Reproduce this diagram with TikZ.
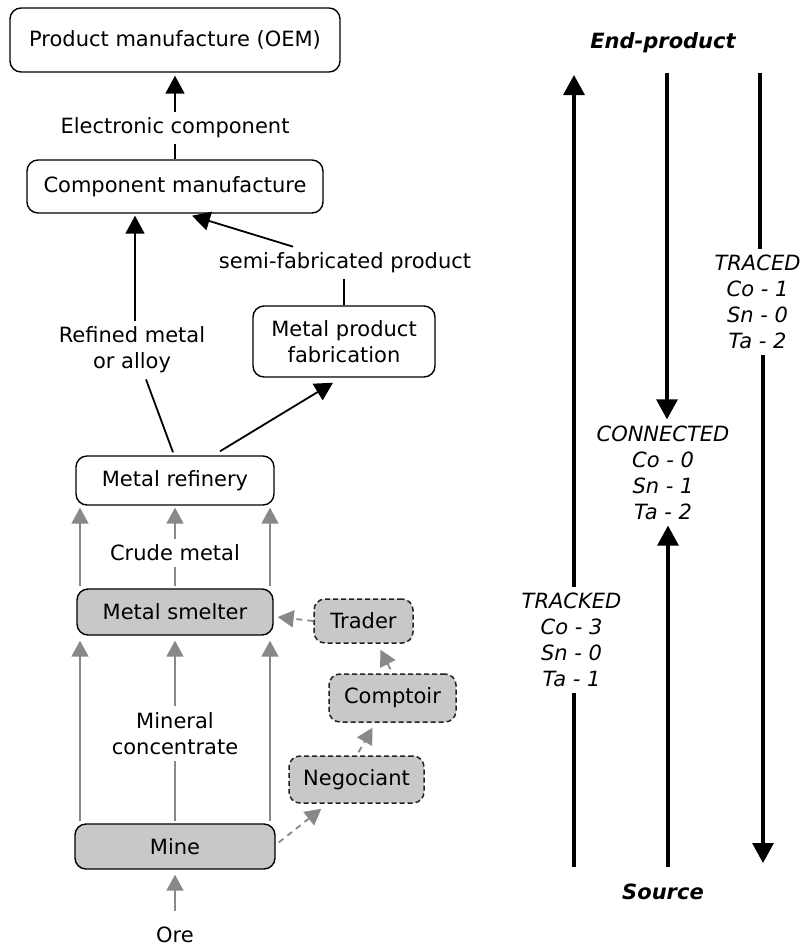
\documentclass[tikz,border=0pt]{standalone}
\usepackage{fontspec}
\setmainfont{DejaVu Sans}
\usetikzlibrary{arrows.meta,calc}
\newcommand\dfs{\fontsize{21}{26}\selectfont}
\definecolor{boxgray}{HTML}{C8C8C8}
\definecolor{arrowgray}{HTML}{888888}
\definecolor{dashline}{HTML}{222222}
\begin{document}
\begin{tikzpicture}[x=1pt,y=-1pt,
  box/.style={draw, rounded corners=11pt, line width=1.4pt, inner sep=0pt, align=center, font=\dfs},
  graybox/.style={box, fill=boxgray},
  dbox/.style={graybox, draw=dashline, line width=1.5pt, dash pattern=on 5pt off 3pt},
  lbl/.style={inner sep=6pt, align=center, font=\dfs},
  blk/.style={line width=1.8pt, black},
  blkarr/.style={blk, -{Triangle[length=18pt,width=19pt]}},
  gline/.style={line width=1.8pt, arrowgray},
  garr/.style={gline, -{Triangle[length=16pt,width=17pt]}},
  gdash/.style={garr, dash pattern=on 6pt off 5pt},
  rline/.style={line width=3.2pt, black},
  rarr/.style={rline, -{Triangle[length=20pt,width=21pt]}}
]
\useasboundingbox[fill=white] (0,0) rectangle (802,946);

% boxes
\node[box, minimum width=330pt, minimum height=64pt] (oem) at (175,40) {Product manufacture (OEM)};
\node[box, minimum width=296pt, minimum height=53pt] (comp) at (175,186.5) {Component manufacture};
\node[box, minimum width=182pt, minimum height=71pt] (fab) at (344,341.5) {Metal product\\fabrication};
\node[box, minimum width=198pt, minimum height=49pt] (ref) at (175,480.5) {Metal refinery};
\node[graybox, minimum width=196pt, minimum height=46pt] (smelt) at (175,612) {Metal smelter};
\node[graybox, minimum width=200pt, minimum height=45pt] (mine) at (175,846.5) {Mine};
\node[dbox, minimum width=99pt, minimum height=44pt] (trader) at (363.5,621) {Trader};
\node[dbox, minimum width=127pt, minimum height=48pt] (compt) at (392.5,698) {Comptoir};
\node[dbox, minimum width=135pt, minimum height=47pt] (nego) at (356.5,779.5) {Negociant};

% labels
\node[lbl] (elec) at (175,128) {Electronic component};
\node[lbl] (semi) at (345,263) {semi-fabricated product};
\node[lbl] (refd) at (132,350) {Refined metal\\or alloy};
\node[lbl] (crude) at (175,553) {Crude metal};
\node[lbl] (minc) at (175,733.5) {Mineral\\concentrate};
\node[lbl] (ore) at (175,935) {Ore};

% black connectors
\draw[blkarr] (elec.north) -- ($(oem.south)+(0,3)$);
\draw[blk] (comp.north) -- (elec.south);
\draw[blk] (fab.north) -- (fab.north |- semi.south);
\draw[blkarr] ($(semi.north)+(-52,0)$) -- ($(comp.south)+(17,2)$);
\draw[blkarr] ($(refd.north)+(3,0)$) -- ($(comp.south)+(-40,2)$);
\draw[blk] ($(refd.south)+(14,0)$) -- ($(ref.north)+(-2,-3)$);
\draw[blkarr] ($(ref.north)+(45,-4)$) -- ($(fab.south)+(-11,5)$);

% gray connectors
\foreach \dx in {-95,95} {
  \draw[garr] ($(smelt.north)+(\dx,-2)$) -- ($(ref.south)+(\dx,2)$);
  \draw[garr] ($(mine.north)+(\dx,-2)$) -- ($(smelt.south)+(\dx,5)$);
}
\draw[gline] ($(smelt.north)+(0,-2)$) -- (crude.south);
\draw[garr] (crude.north) -- ($(ref.south)+(0,2)$);
\draw[gline] ($(mine.north)+(0,-2)$) -- (minc.south);
\draw[garr] (minc.north) -- ($(smelt.south)+(0,5)$);
\draw[garr] ($(ore.north)+(0,-10)$) -- ($(mine.south)+(0,5)$);

% dashed connectors
\draw[gdash] ($(mine.east)+(3,-4)$) -- ($(nego.south west)+(33,5)$);
\draw[gdash] ($(nego.north)+(2,-3)$) -- ($(compt.south)+(-20,5)$);
\draw[gdash] ($(compt.north)+(-2,-4)$) -- ($(trader.south)+(17,6)$);
\draw[gdash] (trader.west) -- ($(smelt.east)+(4,5)$);

% right side
\node[lbl, font=\dfs\bfseries\itshape] (endp) at (663,43) {End-product};
\node[lbl, font=\dfs\bfseries\itshape] (src) at (663,892) {Source};
\node[lbl, font=\dfs\itshape] (tracked) at (571.5,640) {TRACKED\\Co - 3\\Sn - 0\\Ta - 1};
\node[lbl, font=\dfs\itshape] (connected) at (663,472.5) {CONNECTED\\Co - 0\\Sn - 1\\Ta - 2};
\node[lbl, font=\dfs\itshape] (traced) at (757.5,302) {TRACED\\Co - 1\\Sn - 0\\Ta - 2};

\coordinate (t1) at (574,75);
\coordinate (b1) at (574,867);
\coordinate (t2) at (667,73);
\coordinate (b2) at (668,867);
\coordinate (t3) at (760,73);
\coordinate (b3) at (763,863);

\draw[rarr] (tracked.north -| t1) -- (t1);
\draw[rline] (b1) -- (tracked.south -| b1);
\draw[rarr] (t2) -- (t2 |- connected.north);
\draw[rarr] (b2) -- (b2 |- connected.south);
\draw[rline] (t3) -- (t3 |- traced.north);
\draw[rarr] (traced.south -| b3) -- (b3);
\end{tikzpicture}
\end{document}
